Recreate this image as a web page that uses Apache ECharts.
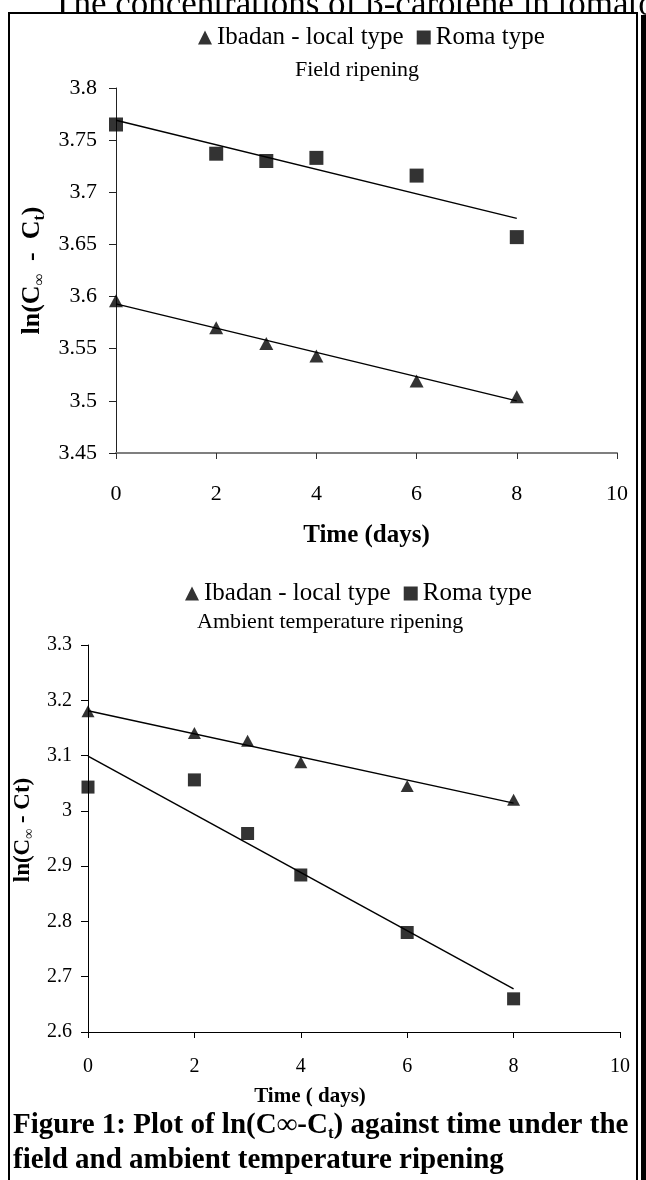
<!DOCTYPE html>
<html>
<head>
<meta charset="utf-8">
<script src="https://cdn.jsdelivr.net/npm/echarts@6/dist/echarts.min.js"></script>
<style>
  html, body { margin: 0; padding: 0; background: #fff; }
  #main { width: 646px; height: 1180px; }
</style>
</head>
<body>
<div id="main"></div>
<script>
// sampling days
const days = [0, 2, 3, 4, 6, 8];

// field ripening
const fieldIbadan = [3.596, 3.570, 3.555, 3.543, 3.519, 3.504];
const fieldRoma = [3.765, 3.737, 3.730, 3.733, 3.716, 3.657];

// ambient temperature ripening
const ambientIbadan = [3.180, 3.141, 3.127, 3.088, 3.045, 3.020];
const ambientRoma = [3.043, 3.056, 2.959, 2.884, 2.780, 2.660];

// fitted lines at day 0 and day 8
const fitDays = [0, 8];
const fieldIbadanFit = [3.593, 3.500];
const fieldRomaFit = [3.769, 3.675];
const ambientIbadanFit = [3.181, 3.014];
const ambientRomaFit = [3.099, 2.678];

const FONT = "'Liberation Serif', 'Times New Roman', serif";

function pairs(xs, ys) {
  return xs.map(function (x, i) { return [x, ys[i]]; });
}
function yLabel(v) {
  return String(+v.toFixed(2));
}

let chart = echarts.init(document.getElementById('main'), null, { renderer: 'canvas' });

function pointSeries(name, idx, symbol, size, data) {
  return {
    type: 'scatter',
    name: name,
    xAxisIndex: idx,
    yAxisIndex: idx,
    symbol: symbol,
    symbolSize: size,
    itemStyle: { color: '#000' },
    data: data,
    z: 3
  };
}
function fitSeries(name, idx, data) {
  return {
    type: 'line',
    name: name,
    xAxisIndex: idx,
    yAxisIndex: idx,
    symbol: 'none',
    silent: true,
    lineStyle: { color: '#000', width: 1.5 },
    data: data,
    z: 2
  };
}

const legendData = [
  { name: 'Ibadan - local type', icon: 'triangle' },
  { name: 'Roma type', icon: 'rect' }
];

var option = {
  animation: false,
  backgroundColor: '#fff',
  title: [
    {
      text: 'Field ripening',
      left: 295, top: 59, padding: 0,
      textStyle: { fontFamily: FONT, fontSize: 22, fontWeight: 'normal', color: '#000' }
    },
    {
      text: 'Ambient temperature ripening',
      left: 197, top: 611, padding: 0,
      textStyle: { fontFamily: FONT, fontSize: 22, fontWeight: 'normal', color: '#000' }
    }
  ],
  legend: [
    {
      left: 198, top: 25, padding: 0,
      itemWidth: 14, itemHeight: 14, itemGap: 13,
      selectedMode: false,
      data: legendData,
      textStyle: { fontFamily: FONT, fontSize: 25, color: '#000' }
    },
    {
      left: 185, top: 581, padding: 0,
      itemWidth: 14, itemHeight: 14, itemGap: 13,
      selectedMode: false,
      data: legendData,
      textStyle: { fontFamily: FONT, fontSize: 25, color: '#000' }
    }
  ],
  grid: [
    { left: 116, top: 88, width: 501, height: 365 },
    { left: 88, top: 645, width: 532, height: 387 }
  ],
  xAxis: [
    {
      gridIndex: 0, type: 'value', min: 0, max: 10, interval: 2,
      name: 'Time (days)', nameLocation: 'middle', nameGap: 70,
      nameTextStyle: { fontFamily: FONT, fontSize: 25, fontWeight: 'bold', color: '#000' },
      axisLine: { lineStyle: { color: '#7f7f7f', width: 2 } },
      axisTick: { length: 6, lineStyle: { color: '#333', width: 1 } },
      axisLabel: { margin: 30, fontFamily: FONT, fontSize: 22, color: '#000' },
      splitLine: { show: false }
    },
    {
      gridIndex: 1, type: 'value', min: 0, max: 10, interval: 2,
      name: 'Time ( days)', nameLocation: 'middle', nameGap: 54,
      nameTextStyle: {
        fontFamily: FONT, fontSize: 21, fontWeight: 'bold', color: '#000',
        padding: [0, 88, 0, 0]
      },
      axisLine: { lineStyle: { color: '#000', width: 1 } },
      axisTick: { length: 6, lineStyle: { color: '#000', width: 1 } },
      axisLabel: { margin: 25, fontFamily: FONT, fontSize: 20, color: '#000' },
      splitLine: { show: false }
    }
  ],
  yAxis: [
    {
      gridIndex: 0, type: 'value', min: 3.45, max: 3.8, interval: 0.05,
      name: '{a|ln(C}{s|∞}{a|  -  C}{s|t}{a|)}',
      nameLocation: 'middle', nameGap: 56,
      nameTextStyle: {
        color: '#000',
        rich: {
          a: { fontFamily: FONT, fontSize: 26, fontWeight: 'bold', lineHeight: 30, color: '#000' },
          s: { fontFamily: FONT, fontSize: 16, fontWeight: 'bold', lineHeight: 16, verticalAlign: 'bottom', color: '#000' }
        }
      },
      axisLine: { lineStyle: { color: '#222', width: 1 } },
      axisTick: { length: 7, lineStyle: { color: '#222', width: 1 } },
      axisLabel: { margin: 19, fontFamily: FONT, fontSize: 22, color: '#000', formatter: yLabel },
      splitLine: { show: false }
    },
    {
      gridIndex: 1, type: 'value', min: 2.6, max: 3.3, interval: 0.1,
      name: '{a|ln(C}{s|∞}{a| - Ct)}',
      nameLocation: 'middle', nameGap: 34,
      nameTextStyle: {
        color: '#000',
        padding: [0, 0, 0, 17],
        rich: {
          a: { fontFamily: FONT, fontSize: 23, fontWeight: 'bold', lineHeight: 27, color: '#000' },
          s: { fontFamily: FONT, fontSize: 14, fontWeight: 'bold', lineHeight: 14, verticalAlign: 'bottom', color: '#000' }
        }
      },
      axisLine: { lineStyle: { color: '#000', width: 1 } },
      axisTick: { length: 7, lineStyle: { color: '#000', width: 1 } },
      axisLabel: { margin: 16, fontFamily: FONT, fontSize: 20, color: '#000', formatter: yLabel },
      splitLine: { show: false }
    }
  ],
  graphic: [
    // running text of the page above the figure, cut by the frame
    {
      type: 'text', z: -20, left: 52, top: -12,
      style: { text: 'The concentrations of β-carotene in tomato', font: '35px ' + FONT, fill: '#000' }
    },
    // figure frame
    {
      type: 'rect', z: -10,
      shape: { x: 9, y: 13, width: 628, height: 1200 },
      style: { fill: '#fff', stroke: '#000', lineWidth: 2 }
    },
    {
      type: 'rect', z: -9,
      shape: { x: 641, y: 15, width: 6, height: 1170 },
      style: { fill: '#000' }
    },
    // caption
    {
      type: 'text', z: 5, left: 13, top: 1111,
      style: {
        text: '{b|Figure 1: Plot of ln(C∞-C}{s|t}{b|) against time under the}',
        rich: {
          b: { font: 'bold 29px ' + FONT, fill: '#000', lineHeight: 34 },
          s: { font: 'bold 17px ' + FONT, fill: '#000', lineHeight: 17, verticalAlign: 'bottom' }
        }
      }
    },
    {
      type: 'text', z: 5, left: 13, top: 1146,
      style: { text: 'field and ambient temperature ripening', font: 'bold 29px ' + FONT, fill: '#000' }
    }
  ],
  series: [
    fitSeries('fit field ibadan', 0, pairs(fitDays, fieldIbadanFit)),
    fitSeries('fit field roma', 0, pairs(fitDays, fieldRomaFit)),
    pointSeries('Ibadan - local type', 0, 'triangle', [14, 13], pairs(days, fieldIbadan)),
    pointSeries('Roma type', 0, 'rect', [14, 14], pairs(days, fieldRoma)),
    fitSeries('fit ambient ibadan', 1, pairs(fitDays, ambientIbadanFit)),
    fitSeries('fit ambient roma', 1, pairs(fitDays, ambientRomaFit)),
    pointSeries('Ibadan - local type', 1, 'triangle', [13, 12], pairs(days, ambientIbadan)),
    pointSeries('Roma type', 1, 'rect', [13, 13], pairs(days, ambientRoma))
  ]
};

chart.setOption(option);
</script>
</body>
</html>
